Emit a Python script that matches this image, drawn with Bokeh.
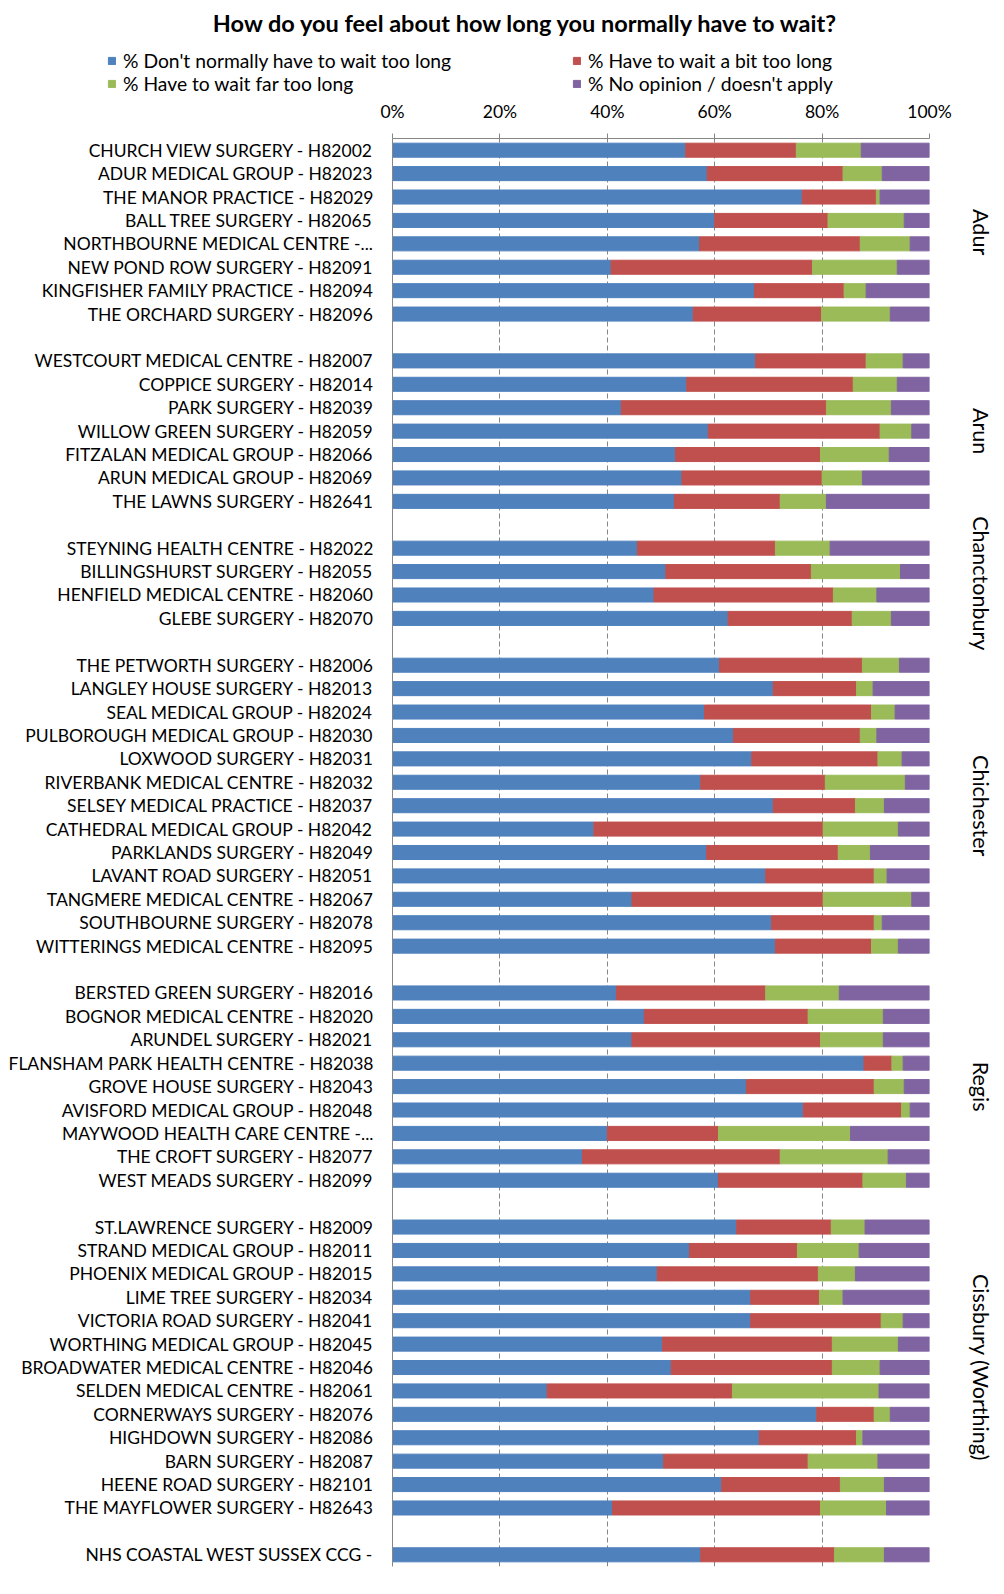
from bokeh.plotting import figure
from bokeh.models import (FactorRange, Range1d, ColumnDataSource, CategoricalAxis,
                          FixedTicker, PrintfTickFormatter, Legend, LegendItem, Label)
from bokeh.embed import file_html
from bokeh.resources import INLINE

FONT = "Lato"

title_text = "How do you feel about how long you normally have to wait?"
series_names = ["% Don't normally have to wait too long", "% Have to wait a bit too long",
                "% Have to wait far too long", "% No opinion / doesn't apply"]
series_colors = ["#4F81BD", "#C0504D", "#9BBB59", "#8064A2"]

groups = ["Adur", "Arun", "Chanctonbury", "Chichester", "Regis", "Cissbury (Worthing)", " "]
group_sizes = [8, 7, 4, 13, 9, 13, 1]

practices = [
    "CHURCH VIEW SURGERY - H82002", "ADUR MEDICAL GROUP - H82023", "THE MANOR PRACTICE - H82029",
    "BALL TREE SURGERY - H82065", "NORTHBOURNE MEDICAL CENTRE -...", "NEW POND ROW SURGERY - H82091",
    "KINGFISHER FAMILY PRACTICE - H82094", "THE ORCHARD SURGERY - H82096",
    "WESTCOURT MEDICAL CENTRE - H82007", "COPPICE SURGERY - H82014", "PARK SURGERY - H82039",
    "WILLOW GREEN SURGERY - H82059", "FITZALAN MEDICAL GROUP - H82066", "ARUN MEDICAL GROUP - H82069",
    "THE LAWNS SURGERY - H82641",
    "STEYNING HEALTH CENTRE - H82022", "BILLINGSHURST SURGERY - H82055",
    "HENFIELD MEDICAL CENTRE - H82060", "GLEBE SURGERY - H82070",
    "THE PETWORTH SURGERY - H82006", "LANGLEY HOUSE SURGERY - H82013", "SEAL MEDICAL GROUP - H82024",
    "PULBOROUGH MEDICAL GROUP - H82030", "LOXWOOD SURGERY - H82031", "RIVERBANK MEDICAL CENTRE - H82032",
    "SELSEY MEDICAL PRACTICE - H82037", "CATHEDRAL MEDICAL GROUP - H82042", "PARKLANDS SURGERY - H82049",
    "LAVANT ROAD SURGERY - H82051", "TANGMERE MEDICAL CENTRE - H82067", "SOUTHBOURNE SURGERY - H82078",
    "WITTERINGS MEDICAL CENTRE - H82095",
    "BERSTED GREEN SURGERY - H82016", "BOGNOR MEDICAL CENTRE - H82020", "ARUNDEL SURGERY - H82021",
    "FLANSHAM PARK HEALTH CENTRE - H82038", "GROVE HOUSE SURGERY - H82043", "AVISFORD MEDICAL GROUP - H82048",
    "MAYWOOD HEALTH CARE CENTRE -...", "THE CROFT SURGERY - H82077", "WEST MEADS SURGERY - H82099",
    "ST.LAWRENCE SURGERY - H82009", "STRAND MEDICAL GROUP - H82011", "PHOENIX MEDICAL GROUP - H82015",
    "LIME TREE SURGERY - H82034", "VICTORIA ROAD SURGERY - H82041", "WORTHING MEDICAL GROUP - H82045",
    "BROADWATER MEDICAL CENTRE - H82046", "SELDEN MEDICAL CENTRE - H82061", "CORNERWAYS SURGERY - H82076",
    "HIGHDOWN SURGERY - H82086", "BARN SURGERY - H82087", "HEENE ROAD SURGERY - H82101",
    "THE MAYFLOWER SURGERY - H82643",
    "NHS COASTAL WEST SUSSEX CCG -",
]

not_too_long = [54.6, 58.6, 76.3, 60.0, 57.2, 40.7, 67.4, 56.0,
                67.6, 54.8, 42.6, 58.8, 52.7, 53.9, 52.5,
                45.6, 50.9, 48.7, 62.5,
                60.9, 70.9, 58.1, 63.5, 66.9, 57.4, 70.9, 37.5, 58.5, 69.5, 44.6, 70.6, 71.3,
                41.7, 46.9, 44.6, 87.8, 65.9, 76.5, 40.0, 35.4, 60.7,
                64.1, 55.3, 49.3, 66.7, 66.7, 50.3, 51.9, 28.8, 79.0, 68.3, 50.5, 61.3, 41.0,
                57.4]
bit_too_long = [20.6, 25.3, 13.8, 21.1, 29.9, 37.5, 16.7, 23.9,
                20.6, 31.0, 38.2, 32.0, 27.0, 26.1, 19.7,
                25.7, 27.1, 33.4, 23.1,
                26.6, 15.5, 31.1, 23.6, 23.5, 23.2, 15.3, 42.7, 24.5, 20.2, 35.6, 19.1, 17.9,
                27.8, 30.5, 35.1, 5.2, 23.8, 18.3, 20.7, 36.8, 26.9,
                17.6, 20.1, 30.0, 12.8, 24.3, 31.6, 30.0, 34.5, 10.7, 18.1, 26.9, 22.1, 38.7,
                24.9]
far_too_long = [12.1, 7.3, 0.7, 14.2, 9.3, 15.8, 4.1, 12.8,
                6.9, 8.2, 12.1, 5.9, 12.8, 7.5, 8.6,
                10.2, 16.6, 8.1, 7.3,
                6.9, 3.1, 4.4, 3.1, 4.5, 14.9, 5.4, 14.0, 6.0, 2.4, 16.5, 1.5, 5.0,
                13.7, 14.0, 11.7, 2.1, 5.6, 1.6, 24.6, 20.1, 8.1,
                6.3, 11.5, 6.9, 4.4, 4.1, 12.3, 8.9, 27.3, 3.0, 1.2, 13.0, 8.2, 12.3,
                9.3]
no_opinion = [12.7, 8.8, 9.2, 4.7, 3.6, 6.0, 11.8, 7.3,
              4.9, 6.0, 7.1, 3.3, 7.5, 12.5, 19.2,
              18.5, 5.4, 9.8, 7.1,
              5.6, 10.5, 6.4, 9.8, 5.1, 4.5, 8.4, 5.8, 11.0, 7.9, 3.3, 8.8, 5.8,
              16.8, 8.6, 8.6, 4.9, 4.7, 3.6, 14.7, 7.7, 4.3,
              12.0, 13.1, 13.8, 16.1, 4.9, 5.8, 9.2, 9.4, 7.3, 12.4, 9.6, 8.4, 8.0,
              8.4]

x_ticks = [0, 20, 40, 60, 80, 100]

# nested (group, practice) factors, top-to-bottom order
practice_group = []
for gname, n in zip(groups, group_sizes):
    practice_group.extend([gname] * n)
factors = list(zip(practice_group, practices))

src = ColumnDataSource(dict(cat=factors, a=not_too_long, b=bit_too_long,
                            c=far_too_long, d=no_opinion))
stackers = ["a", "b", "c", "d"]

GRAY = "#868686"
W = 996
HEAD_H = 97

x_range = Range1d(0, 100)
y_range = FactorRange(factors=factors[::-1], group_padding=1.0, factor_padding=0.0, range_padding=0.0)

# ---------------- main chart ----------------
p = figure(width=W, height=1578 - HEAD_H, x_range=x_range, y_range=y_range,
           x_axis_location="above", y_axis_location="left",
           toolbar_location=None, output_backend="svg",
           min_border_left=392, min_border_right=66, min_border_top=37, min_border_bottom=12)
p.outline_line_color = None
p.background_fill_color = "white"

p.hbar_stack(stackers, y="cat", height=0.6, color=series_colors, source=src)

# top axis
p.xaxis.ticker = FixedTicker(ticks=x_ticks)
p.xaxis.formatter = PrintfTickFormatter(format="%d%%")
p.xaxis.axis_line_color = GRAY
p.xaxis.major_tick_line_color = GRAY
p.xaxis.major_tick_out = 5
p.xaxis.major_tick_in = 0
p.xaxis.minor_tick_line_color = None
p.xaxis.major_label_standoff = 12
p.xaxis.major_label_text_font = FONT
p.xaxis.major_label_text_font_size = "17.5px"
p.xaxis.major_label_text_color = "black"

p.xgrid.ticker = FixedTicker(ticks=x_ticks)
p.xgrid.grid_line_color = GRAY
p.xgrid.grid_line_dash = "5 3"
p.ygrid.visible = False

# left axis: practice names
ya = p.yaxis[0]
ya.axis_line_color = GRAY
ya.major_tick_line_color = None
ya.major_tick_out = 0
ya.major_tick_in = 0
ya.separator_line_color = None
ya.major_label_standoff = 19
ya.major_label_text_font = FONT
ya.major_label_text_font_size = "17.5px"
ya.major_label_text_color = "black"
ya.group_text_font_size = "1px"
ya.group_text_color = None

# right axis: group names
ra = CategoricalAxis(axis_line_color=None, major_tick_line_color=None,
                     major_tick_out=0, major_tick_in=0, separator_line_color=None,
                     major_label_standoff=38, major_label_text_font_size="1px",
                     major_label_text_color=None,
                     group_label_orientation="parallel", group_text_font=FONT,
                     group_text_font_size="21.5px", group_text_font_style="normal",
                     group_text_color="black")
p.add_layout(ra, "right")

# ---------------- header (separate root): title + legend ----------------
head = figure(width=W, height=HEAD_H, x_range=x_range, y_range=y_range,
              x_axis_location=None, y_axis_location=None,
              toolbar_location=None, output_backend="svg",
              min_border=0, min_border_left=0, min_border_right=0,
              min_border_top=0, min_border_bottom=0)
head.outline_line_color = None
for g in head.grid:
    g.visible = False
key_renderers = head.hbar_stack(stackers, y="cat", height=0.6, color=series_colors,
                                source=src, visible=False)

legend = Legend(items=[LegendItem(label=nm, renderers=[r]) for nm, r in zip(series_names, key_renderers)],
                location=(107, 2), orientation="horizontal", ncols=2,
                glyph_width=9, glyph_height=9, label_standoff=7, label_width=449,
                label_height=20, spacing=0, padding=0, margin=0,
                border_line_color=None, background_fill_alpha=0,
                label_text_font=FONT, label_text_font_size="19.3px", label_text_color="black")
head.add_layout(legend)

title = Label(x=525.5, y=HEAD_H - 22, x_units="screen", y_units="screen", text=title_text,
              text_font=FONT, text_font_size="23.5px", text_font_style="bold",
              text_align="center", text_baseline="middle", text_color="black")
head.add_layout(title)

open("out.html", "w").write(file_html([head, p], INLINE))
